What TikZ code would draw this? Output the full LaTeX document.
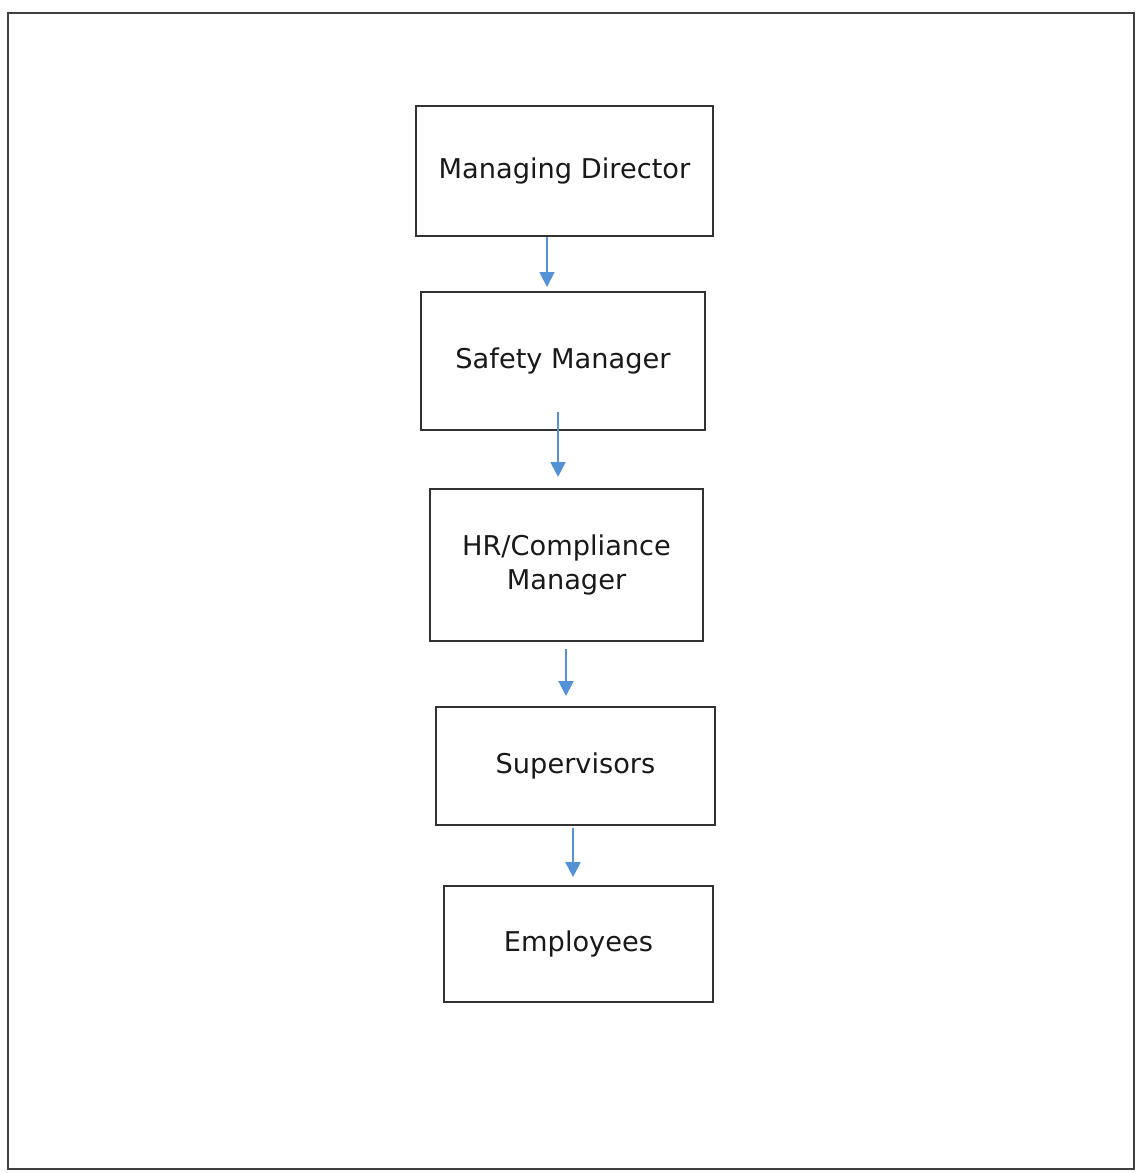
\documentclass[tikz,border=0pt]{standalone}
\usepackage{fontspec}
\setmainfont{DejaVu Sans}
\usetikzlibrary{arrows.meta}

\definecolor{linkblue}{RGB}{84,146,214}
\definecolor{boxline}{RGB}{50,50,50}

\tikzstyle{arrow} = [line width=1.1pt,draw=linkblue,-{Triangle[width=8.5pt,length=8.5pt]}]
\tikzstyle{role} = [
        rectangle,
        draw=boxline,
        line width=1.1pt,
        align=center,
        inner sep=0pt,
        text=black!90,
        font=\fontsize{15.5}{19.3}\selectfont
    ]

\begin{document}
\begin{tikzpicture}[x=0.02cm,y=-0.02cm]

        \useasboundingbox (0,0) rectangle (1136,1173);
        \draw [line width=1.4pt,draw=black!75] (8,13) rectangle (1134,1169);

        \node [role, minimum width=5.94cm, minimum height=2.6cm] (director) at (564.5,171) {Managing Director};
        \node [role, minimum width=5.68cm, minimum height=2.76cm] (safety) at (563,361) {Safety Manager};
        \node [role, minimum width=5.46cm, minimum height=3.04cm] (hr) at (566.5,565) {HR/Compliance\\Manager};
        \node [role, minimum width=5.58cm, minimum height=2.36cm] (supervisors) at (575.5,766) {Supervisors};
        \node [role, minimum width=5.38cm, minimum height=2.32cm] (employees) at (578.5,944) {Employees};

        \draw [arrow, shorten >=2.3pt] (director.south -| 547,0) -- (safety.north -| 547,0);
        \draw [arrow, shorten <=-10.8pt, shorten >=6.3pt] (safety.south -| 558,0) -- (hr.north -| 558,0);
        \draw [arrow, shorten <=4pt, shorten >=5.7pt] (hr.south -| 566,0) -- (supervisors.north -| 566,0);
        \draw [arrow, shorten <=1.1pt, shorten >=4.5pt] (supervisors.south -| 573,0) -- (employees.north -| 573,0);

\end{tikzpicture}
\end{document}
